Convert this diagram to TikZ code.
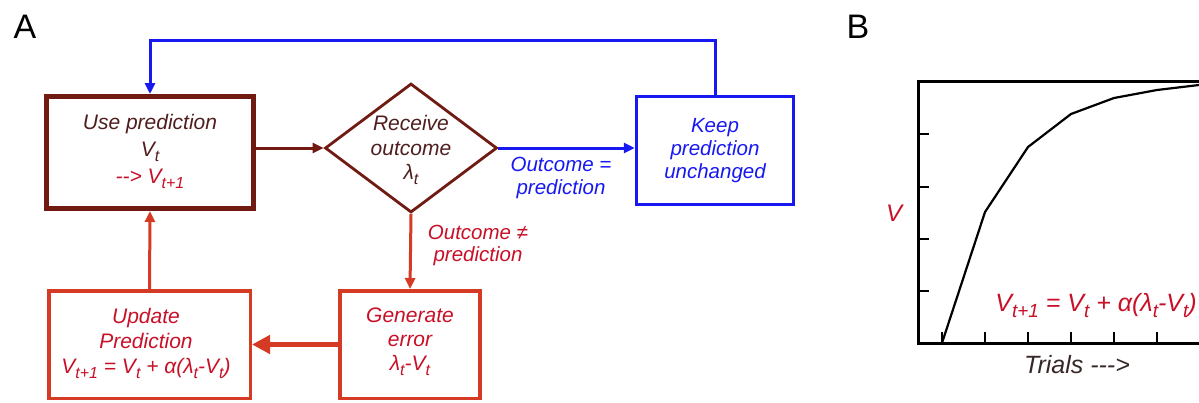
\documentclass[tikz,border=0pt]{standalone}
\usepackage{fontspec}
\usepackage{graphicx}
\setmainfont{Liberation Sans}
\usetikzlibrary{shapes.geometric,arrows.meta}
\definecolor{maroon}{RGB}{112,26,18}
\definecolor{mtext}{RGB}{80,30,30}
\definecolor{crim}{RGB}{200,16,40}
\definecolor{boxred}{RGB}{212,58,36}
\definecolor{kblue}{RGB}{24,24,240}
\definecolor{darktext}{RGB}{55,40,40}
\newcommand\sbs[1]{\raisebox{-0.24em}{\scalebox{0.76}{#1}}}
\begin{document}
\begin{tikzpicture}[x=1pt,y=-1pt,
  txt/.style={font=\fontsize{21}{25}\selectfont\itshape, align=center, inner sep=0pt},
  flowbox/.style={draw, fill=white, inner sep=0pt},
  head/.style={-{Triangle[length=11pt,width=10pt]}},
  conn/.style={line width=3pt, head},
  panel/.style={font=\fontsize{34}{34}\selectfont, inner sep=0pt},
]
\useasboundingbox (0,0) rectangle (1199,402);
\fill[white] (0,0) rectangle (1199,402);

% panel labels
\node[panel] (la) at (25,27) {A};
\node[panel] (lb) at (858,27) {B};

% boxes
\node[flowbox, draw=maroon, line width=5pt, minimum width=207pt, minimum height=112pt] (use) at (150,152.5) {};
\node[draw=maroon, line width=2.8pt, diamond, minimum width=172pt, minimum height=129pt, inner sep=0pt] (dia) at (411,148) {};
\node[flowbox, draw=kblue, line width=3pt, minimum width=157.5pt, minimum height=108.5pt] (keep) at (715,150.5) {};
\node[flowbox, draw=boxred, line width=3.5pt, minimum width=140pt, minimum height=107.5pt] (gen) at (410,344.5) {};
\node[flowbox, draw=boxred, line width=3.5pt, minimum width=201.5pt, minimum height=107.5pt] (upd) at (149.5,344.5) {};

% texts in boxes
\node[txt, text=mtext, font=\fontsize{21}{27}\selectfont\itshape] (usetxt) at (150,151) {Use prediction\\ V\sbs{t}\\ \textcolor{crim}{-{}-> V\sbs{t+1}}};
\node[txt, text=mtext, font=\fontsize{21}{24.5}\selectfont\itshape] (diatxt) at (411,150) {Receive\\ outcome\\ λ\sbs{t}};
\node[txt, text=kblue, font=\fontsize{20.5}{23}\selectfont\itshape] (keeptxt) at (715,151) {Keep\\ prediction\\ unchanged};
\node[txt, text=crim, font=\fontsize{21}{24}\selectfont\itshape] (gentxt) at (410,342) {Generate\\ error\\ λ\sbs{t}-V\sbs{t}};
\node[txt, text=crim, font=\fontsize{21}{25}\selectfont\itshape] (updtxt) at (146,343) {Update\\ Prediction\\ V\sbs{t+1} = V\sbs{t} + α(λ\sbs{t}-V\sbs{t})};

% edge labels
\node[txt, text=kblue, font=\fontsize{20.5}{23}\selectfont\itshape] (eqlab) at (561,178) {Outcome =\\ prediction};
\node[txt, text=crim, font=\fontsize{20.5}{22}\selectfont\itshape] (nelab) at (478,245) {Outcome ≠\\ prediction};

% connectors
\coordinate (tl) at (150,40);
\draw[kblue, conn] (keep.north) |- (tl) -- (use.north);
\draw[maroon, conn] (use.east |- dia.west) -- (dia.west);
\draw[kblue, conn] (dia.east) -- (dia.east -| keep.west);
\draw[boxred, conn] (dia.south) -- (gen.north);
\draw[boxred, line width=5.5pt, -{Triangle[length=18pt,width=18pt]}] (gen.west) -- (upd.east);
\draw[boxred, conn] (upd.north) -- (use.south);

% panel B plot
\draw[black, line width=3pt, line join=miter] (1199,81) -- (918,81) -- (918,343) -- (1199,343);
\foreach \yy in {134,187,239,291} \draw[black, line width=2.5pt] (918,\yy) -- (929,\yy);
\foreach \xx in {942,985,1028,1071,1114,1157} \draw[black, line width=2.5pt] (\xx,343) -- (\xx,332);
\draw[black, line width=2.2pt, line join=round] (942,343) -- (985,212) -- (1028,147) -- (1071,114) -- (1114,98) -- (1157,90) -- (1199,85);
\node[txt, text=crim, font=\fontsize{24}{24}\selectfont\itshape] (vlab) at (894,213) {V};
\node[txt, text=crim, font=\fontsize{25}{25}\selectfont\itshape] (form) at (1096,306) {V\sbs{t+1} = V\sbs{t} + α(λ\sbs{t}-V\sbs{t})};
\node[txt, text=darktext, font=\fontsize{25}{25}\selectfont\itshape] (trials) at (1077,365) {Trials -{}-{}->};
\end{tikzpicture}
\end{document}
